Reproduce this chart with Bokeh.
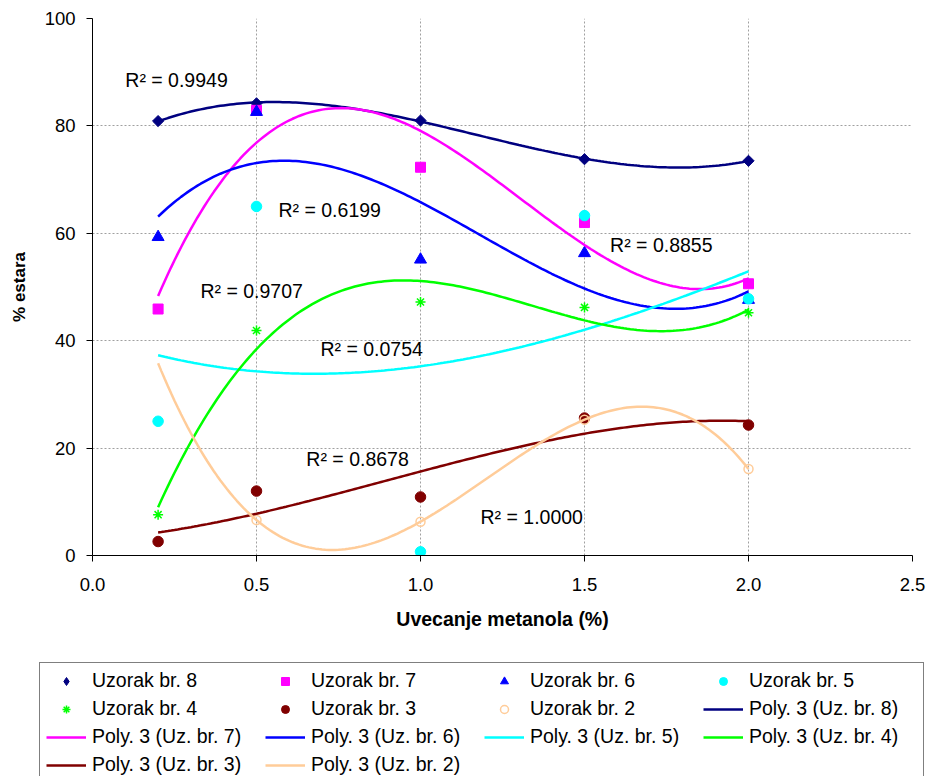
import numpy as np
from bokeh.plotting import figure
from bokeh.layouts import column, row
from bokeh.models import FixedTicker, Legend, LegendItem, PrintfTickFormatter
from bokeh.core.properties import value
from bokeh.embed import file_html
from bokeh.resources import INLINE

FONT = "Liberation Sans"

# Uvecanje metanola (%)
x_vals = [0.2, 0.5, 1.0, 1.5, 2.0]

# % estara for each sample (Uzorak br. 2 has no value at 0.2)
uzorak_8 = [80.9, 84.2, 81.0, 73.8, 73.5]
uzorak_7 = [45.9, 82.9, 72.3, 62.0, 50.6]
uzorak_6 = [59.3, 82.6, 55.1, 56.3, 47.6]
uzorak_5 = [25.0, 65.0, 0.7, 63.3, 47.8]
uzorak_4 = [7.6, 41.9, 47.2, 46.2, 45.2]
uzorak_3 = [2.6, 12.0, 10.9, 25.6, 24.3]
uzorak_2 = [None, 6.6, 6.3, 25.3, 16.1]

sample_numbers = [8, 7, 6, 5, 4, 3, 2]
sample_values = [uzorak_8, uzorak_7, uzorak_6, uzorak_5, uzorak_4, uzorak_3, uzorak_2]

# coefficient of determination reported for each cubic trendline
r2_values = ["0.9949", "0.8855", "0.6199", "0.0754", "0.9707", "0.8678", "1.0000"]

x_ticks = [0.0, 0.5, 1.0, 1.5, 2.0, 2.5]
y_ticks = [0, 20, 40, 60, 80, 100]

# styling per sample
colors = ["#000080", "#FF00FF", "#0000FF", "#00FFFF", "#00FF00", "#800000", "#FFCC99"]
markers = ["diamond", "square", "triangle", "circle", "asterisk", "circle", "circle"]
marker_sizes = [11, 10, 12, 10.5, 10, 10.5, 9]
hollow = [False, False, False, False, False, False, True]

# where each R² note sits (data units)
r2_pos = [(0.10, 88.5), (1.578, 57.9), (0.567, 64.4), (0.695, 38.5),
          (0.329, 49.3), (0.652, 18.0), (1.183, 7.1)]

MAIN_H, STRIP_H = 650, 126


def sample_points(fig, xs, ys, col, mk, sz, hol):
    if hol:
        return fig.scatter(xs, ys, marker=mk, size=sz, fill_color=None,
                           line_color=col, line_width=1.5)
    if mk == "asterisk":
        return fig.scatter(xs, ys, marker=mk, size=sz, line_color=col, line_width=1.5)
    return fig.scatter(xs, ys, marker=mk, size=sz, fill_color=col, line_color=col)


# ---------------- main chart ----------------
p = figure(
    width=929, height=MAIN_H,
    x_range=(0, 2.5), y_range=(0, 100),
    output_backend="svg", toolbar_location=None,
    min_border_left=92, min_border_right=17,
    min_border_top=18, min_border_bottom=MAIN_H - 555,
    background_fill_color="white", border_fill_color="white",
)
p.outline_line_color = None

for ax in (p.xaxis[0], p.yaxis[0]):
    ax.axis_line_color = "black"
    ax.axis_line_width = 1
    ax.major_tick_line_color = "black"
    ax.major_tick_out = 6
    ax.major_tick_in = 0
    ax.minor_tick_line_color = None
    ax.major_label_text_font = FONT
    ax.major_label_text_font_size = "18.5px"
    ax.major_label_text_color = "black"
    ax.axis_label_text_font = FONT
    ax.axis_label_text_font_style = "bold"
    ax.axis_label_text_color = "black"

p.xaxis.ticker = FixedTicker(ticks=x_ticks)
p.yaxis.ticker = FixedTicker(ticks=y_ticks)
p.xaxis.formatter = PrintfTickFormatter(format="%.1f")
p.xaxis.axis_label = "Uvecanje metanola (%)"
p.yaxis.axis_label = "% estara"
p.xaxis.axis_label_text_font_size = "19.5px"
p.yaxis.axis_label_text_font_size = "17px"
p.xaxis.major_label_standoff = 16
p.yaxis.major_label_standoff = 11
p.xaxis.axis_label_standoff = 14
p.yaxis.axis_label_standoff = 13

for g in (p.xgrid[0], p.ygrid[0]):
    g.grid_line_color = "#A0A0A0"
    g.grid_line_dash = "2 2"
    g.grid_line_width = 1

x_fit = np.linspace(min(x_vals), max(x_vals), 181)
fits = []
for vals, col, mk, sz, hol in zip(sample_values, colors, markers, marker_sizes, hollow):
    xs = [x for x, v in zip(x_vals, vals) if v is not None]
    ys = [v for v in vals if v is not None]
    if mk == "diamond":
        # square turned by 45° gives the wider diamond used on the chart
        p.scatter(xs, ys, marker="square", size=sz * 0.72, angle=np.pi / 4,
                  fill_color=col, line_color=col)
    else:
        sample_points(p, xs, ys, col, mk, sz, hol)
    fits.append(np.polyval(np.polyfit(xs, ys, 3), x_fit))

# cubic trendlines drawn above the points
for col, y_fit in zip(colors, fits):
    p.line(x_fit, y_fit, line_color=col, line_width=2.5)

p.text(
    x=[pos[0] for pos in r2_pos], y=[pos[1] for pos in r2_pos],
    text=[f"R\u00b2 = {v}" for v in r2_values],
    text_font=value(FONT), text_font_size="19.5px", text_color="black",
    text_align="left", text_baseline="middle",
)

# ---------------- legend strip ----------------
leg = figure(
    width=929, height=STRIP_H,
    x_range=(100, 101), y_range=(100, 101),
    output_backend="svg", toolbar_location=None,
    x_axis_location=None, y_axis_location=None,
    min_border=0, min_border_left=0, min_border_right=0,
    min_border_top=0, min_border_bottom=0,
    background_fill_color="white", border_fill_color="white",
)
leg.outline_line_color = None
leg.grid.visible = False

marker_items, line_items = [], []
for num, vals, col, mk, sz, hol in zip(sample_numbers, sample_values, colors,
                                        markers, marker_sizes, hollow):
    xs = [x for x, v in zip(x_vals, vals) if v is not None]
    ys = [v for v in vals if v is not None]
    r = sample_points(leg, xs, ys, col, mk, sz, hol)
    marker_items.append(LegendItem(label=f"Uzorak br. {num}", renderers=[r]))
for num, col, y_fit in zip(sample_numbers, colors, fits):
    lr = leg.line(x_fit, y_fit, line_color=col, line_width=2.5)
    line_items.append(LegendItem(label=f"Poly. 3 (Uz. br. {num})", renderers=[lr]))

legend = Legend(
    items=marker_items + line_items,
    orientation="horizontal", ncols=4,
    location=(39, -7),
    border_line_color="black", border_line_width=1,
    background_fill_color="white", background_fill_alpha=1.0,
    label_text_font=FONT, label_text_font_size="19.5px", label_text_color="black",
    glyph_width=40, glyph_height=20, label_height=20, label_width=168,
    label_standoff=6, padding=6, spacing=5, margin=0,
)
leg.add_layout(legend, "center")

page = column(p, row(leg, spacing=0), spacing=0)
open("out.html", "w").write(file_html(page, INLINE))
